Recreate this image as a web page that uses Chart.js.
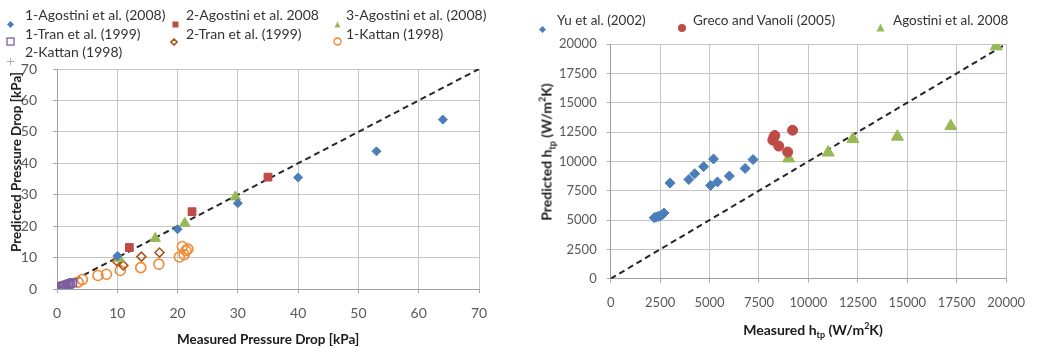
<!DOCTYPE html>
<html><head><meta charset="utf-8">
<script src="https://cdn.jsdelivr.net/npm/chart.js@4.4.0/dist/chart.umd.min.js"></script>
<style>
html,body{margin:0;padding:0;background:#fff;width:1037px;height:347px;overflow:hidden;font-family:Lato,"Liberation Sans",sans-serif;}
#c1w{position:absolute;left:0;top:0;width:500px;height:347px;}
#c2w{position:absolute;left:520px;top:0;width:517px;height:347px;}
.lg{position:absolute;font-size:14px;color:#333;white-space:nowrap;line-height:16px;}
.lg2{font-size:13.5px;}
.mk{position:absolute;}
.t{position:absolute;font-weight:bold;font-size:13.5px;color:#1a1a1a;white-space:nowrap;}
.rot{transform:translate(-50%,-50%) rotate(-90deg);}
.hc{transform:translate(-50%,-50%);}
sub,sup{font-size:9px;line-height:0;}
</style></head><body>
<div id="c1w"><canvas id="c1"></canvas></div>
<div id="c2w"><canvas id="c2"></canvas></div>
<div id="legend"></div>
<div class="t rot" style="left:16px;top:162px;">Predicted Pressure Drop [kPa]</div>
<div class="t hc" style="left:268px;top:339px;">Measured Pressure Drop [kPa]</div>
<div class="t rot" style="left:546px;top:152px;font-size:14px;">Predicted h<sub>tp</sub> (W/m<sup>2</sup>K)</div>
<div class="t hc" style="left:813px;top:329px;font-size:14px;">Measured h<sub>tp</sub> (W/m<sup>2</sup>K)</div>
<script>
// ---------- Left chart: pressure drop [kPa] ----------
const ago1X = [10, 20, 30, 40, 53, 64];
const ago1Y = [10.5, 19, 27.3, 35.5, 43.8, 53.9];
const ago2X = [12, 22.4, 35];
const ago2Y = [13.2, 24.6, 35.6];
const ago3X = [10.3, 16.3, 21.2, 29.6];
const ago3Y = [9.8, 16.1, 20.9, 29.3];
const tran1X = [0.5, 0.7, 0.9, 1.1, 1.3, 1.6, 1.9, 2.2, 2.6];
const tran1Y = [0.6, 0.7, 0.8, 1.0, 1.1, 1.3, 1.5, 1.7, 2.0];
const tran2X = [9.9, 11, 14, 17];
const tran2Y = [8.9, 7.5, 10.3, 11.6];
const kat1X = [3.5, 4.2, 6.8, 8.2, 10.5, 13.9, 16.9, 20.3, 20.8, 21.1, 21.4, 21.7];
const kat1Y = [2.2, 3.0, 4.3, 4.7, 5.9, 6.8, 7.9, 10.2, 13.5, 10.9, 12.2, 12.7];
const kat2X = [1.0, 1.5, 2.0, 2.5, 3.0];
const kat2Y = [0.9, 1.2, 1.5, 1.9, 2.3];
const pdTicks = [0, 10, 20, 30, 40, 50, 60, 70];
const pdParity = [0, 70];

// ---------- Right chart: h_tp (W/m2K) ----------
const yuX = [2200, 2300, 2400, 2500, 2600, 2700, 3000, 3950, 4250, 4700, 5050, 5200, 5400, 6000, 6800, 7200];
const yuY = [5200, 5250, 5300, 5350, 5450, 5600, 8150, 8450, 8950, 9550, 7950, 10200, 8250, 8750, 9400, 10150];
const grecoX = [8200, 8250, 8300, 8500, 8950, 9200];
const grecoY = [11800, 12050, 12200, 11300, 10800, 12650];
const agoX = [9000, 11000, 12250, 14500, 17200, 19500];
const agoY = [10250, 10750, 11900, 12100, 13000, 19800];
const hTicks = [0, 2500, 5000, 7500, 10000, 12500, 15000, 17500, 20000];
const hParity = [0, 20000];

const leftLegend = ["1-Agostini et al. (2008)", "2-Agostini et al. 2008", "3-Agostini et al. (2008)",
  "1-Tran et al. (1999)", "2-Tran et al. (1999)", "1-Kattan (1998)", "2-Kattan (1998)"];
const rightLegend = ["Yu et al. (2002)", "Greco and Vanoli (2005)", "Agostini et al. 2008"];

const pts = (xs, ys) => xs.map((x, i) => ({x: x, y: ys[i]}));
const C = {blue:'#4a7ebb', red:'#be4b48', green:'#98b954', purple:'#7d5fa0', brown:'#a8561a', orange:'#f08a35', lav:'#b9a9d2'};

function scat(label, data, style, fill, border, r, bw, filled){
  return {label, data, pointStyle: style, pointRadius: r, pointHoverRadius: r,
    pointBackgroundColor: filled ? fill : 'rgba(0,0,0,0)', pointBorderColor: border,
    pointBorderWidth: bw, showLine: false};
}
function parity(vals){
  return {label:'parity', data: vals.map(v => ({x:v, y:v})), showLine:true, pointRadius:0,
    borderColor:'#262626', borderWidth:2, borderDash:[6,4], fill:false, order: 10};
}
function axis(tickVals, fitKey, fitVal, pad, fsize){
  return {type:'linear', min: tickVals[0], max: tickVals[tickVals.length - 1],
    afterBuildTicks: (s) => { s.ticks = tickVals.map(v => ({value: v})); },
    ticks:{color:'#595959', font:{family:'Lato', size: fsize}, padding: pad,
      callback: (v) => String(v)},
    grid:{color:'#c6c6c6', lineWidth:1, tickLength:4, tickColor:'#a6a6a6'},
    border:{color:'#a0a0a0', width:1},
    afterFit: (s) => { s[fitKey] = fitVal; }
  };
}
const common = {responsive:true, maintainAspectRatio:false, animation:false,
  plugins:{legend:{display:false}, tooltip:{enabled:false}}};

new Chart(document.getElementById('c1'), {
  type:'scatter',
  data:{datasets:[
    scat(leftLegend[0], pts(ago1X, ago1Y), 'rectRot', C.blue, C.blue, 4.5, 1, true),
    scat(leftLegend[1], pts(ago2X, ago2Y), 'rect', C.red, C.red, 5.5, 1, true),
    scat(leftLegend[2], pts(ago3X, ago3Y), 'triangle', C.green, C.green, 6, 1, true),
    scat(leftLegend[3], pts(tran1X, tran1Y), 'rect', null, C.purple, 5.5, 1.5, false),
    scat(leftLegend[4], pts(tran2X, tran2Y), 'rectRot', null, C.brown, 4.5, 1.6, false),
    scat(leftLegend[5], pts(kat1X, kat1Y), 'circle', null, C.orange, 5, 1.6, false),
    scat(leftLegend[6], pts(kat2X, kat2Y), 'cross', null, C.lav, 3.5, 1, false),
    parity(pdParity)
  ]},
  options:Object.assign({}, common, {
    layout:{padding:{left:0, top:69, right:21, bottom:28}},
    scales:{ x: axis(pdTicks, 'height', 30, 12, 14), y: axis(pdTicks, 'width', 57, 16, 14) }
  })
});

new Chart(document.getElementById('c2'), {
  type:'scatter',
  data:{datasets:[
    scat(rightLegend[0], pts(yuX, yuY), 'rectRot', C.blue, C.blue, 5, 1, true),
    scat(rightLegend[1], pts(grecoX, grecoY), 'circle', C.red, C.red, 5, 1, true),
    scat(rightLegend[2], pts(agoX, agoY), 'triangle', C.green, C.green, 7, 1, true),
    parity(hParity)
  ]},
  options:Object.assign({}, common, {
    layout:{padding:{left:0, top:44, right:21.3, bottom:38.3}},
    scales:{ x: axis(hTicks, 'height', 30, 12, 13), y: axis(hTicks, 'width', 90.7, 10, 13) }
  })
});

// ---------- HTML legends ----------
function marker(kind, color, size){
  const s = size, h = s/2;
  let inner = '';
  if (kind === 'diamond') inner = `<polygon points="${h},0 ${s},${h} ${h},${s} 0,${h}" fill="${color}"/>`;
  if (kind === 'square') inner = `<rect x="0.5" y="0.5" width="${s-1}" height="${s-1}" fill="${color}"/>`;
  if (kind === 'triangle') inner = `<polygon points="${h},0.5 ${s-0.5},${s-0.5} 0.5,${s-0.5}" fill="${color}"/>`;
  if (kind === 'osquare') inner = `<rect x="1" y="1" width="${s-2}" height="${s-2}" fill="none" stroke="${color}" stroke-width="1.3"/>`;
  if (kind === 'odiamond') inner = `<polygon points="${h},1 ${s-1},${h} ${h},${s-1} 1,${h}" fill="none" stroke="${color}" stroke-width="1.6"/>`;
  if (kind === 'ocircle') inner = `<circle cx="${h}" cy="${h}" r="${h-1}" fill="none" stroke="${color}" stroke-width="1.4"/>`;
  if (kind === 'circle') inner = `<circle cx="${h}" cy="${h}" r="${h}" fill="${color}"/>`;
  if (kind === 'plus') inner = `<path d="M${h},0 V${s} M0,${h} H${s}" stroke="${color}" stroke-width="1"/>`;
  return `<svg width="${s}" height="${s}" viewBox="0 0 ${s} ${s}">${inner}</svg>`;
}
const L = document.getElementById('legend');
function item(mx, tx, y, kind, color, size, text, cls){
  L.insertAdjacentHTML('beforeend',
    `<div class="mk" style="left:${mx - size/2}px;top:${y - size/2}px;width:${size}px;height:${size}px;">${marker(kind, color, size)}</div>` +
    `<div class="lg ${cls || ''}" style="left:${tx}px;top:${y - 8}px;">${text}</div>`);
}
item(10, 25, 15, 'diamond', C.blue, 7, leftLegend[0]);
item(175, 186, 15, 'square', C.red, 7, leftLegend[1]);
item(337, 346, 15, 'triangle', C.green, 7, leftLegend[2]);
item(10, 25, 34, 'osquare', C.purple, 9, leftLegend[3]);
item(174, 186, 34, 'odiamond', C.brown, 8, leftLegend[4]);
item(337, 346, 34, 'ocircle', C.orange, 9, leftLegend[5]);
item(10, 25, 52, 'plus', C.lav, 7, leftLegend[6]);
item(542, 557, 20, 'diamond', C.blue, 7, rightLegend[0], 'lg2');
item(682, 693, 20, 'circle', C.red, 8, rightLegend[1], 'lg2');
item(880, 893, 20, 'triangle', C.green, 9, rightLegend[2], 'lg2');
</script>
</body></html>
